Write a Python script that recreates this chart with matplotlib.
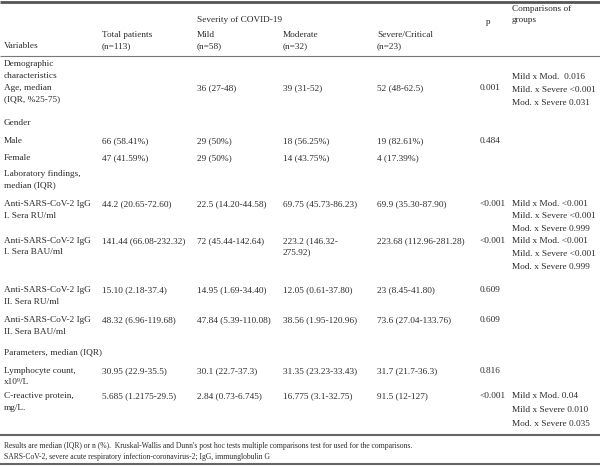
import matplotlib
matplotlib.use("Agg")
import matplotlib.pyplot as plt

plt.rcParams['font.family'] = ['Liberation Serif', 'DejaVu Serif']

# table content
col_headers = ["Total patients\n(n=113)", "Mild\n(n=58)", "Moderate\n(n=32)", "Severe/Critical\n(n=23)"]
section_labels = ["Demographic\ncharacteristics", "Gender", "Laboratory findings,\nmedian (IQR)", "Parameters, median (IQR)"]
var_names = ["Age, median\n(IQR, %25-75)", "Male", "Female",
             "Anti-SARS-CoV-2 IgG\nI. Sera RU/ml", "Anti-SARS-CoV-2 IgG\nI. Sera BAU/ml",
             "Anti-SARS-CoV-2 IgG\nII. Sera RU/ml", "Anti-SARS-CoV-2 IgG\nII. Sera BAU/ml",
             "Lymphocyte count,\nx10⁹/L", "C-reactive protein,\nmg/L."]
total = ["", "66 (58.41%)", "47 (41.59%)", "44.2 (20.65-72.60)", "141.44 (66.08-232.32)",
         "15.10 (2.18-37.4)", "48.32 (6.96-119.68)", "30.95 (22.9-35.5)", "5.685 (1.2175-29.5)"]
mild = ["36 (27-48)", "29 (50%)", "29 (50%)", "22.5 (14.20-44.58)", "72 (45.44-142.64)",
        "14.95 (1.69-34.40)", "47.84 (5.39-110.08)", "30.1 (22.7-37.3)", "2.84 (0.73-6.745)"]
moderate = ["39 (31-52)", "18 (56.25%)", "14 (43.75%)", "69.75 (45.73-86.23)", "223.2 (146.32-\n275.92)",
            "12.05 (0.61-37.80)", "38.56 (1.95-120.96)", "31.35 (23.23-33.43)", "16.775 (3.1-32.75)"]
severe = ["52 (48-62.5)", "19 (82.61%)", "4 (17.39%)", "69.9 (35.30-87.90)", "223.68 (112.96-281.28)",
          "23 (8.45-41.80)", "73.6 (27.04-133.76)", "31.7 (21.7-36.3)", "91.5 (12-127)"]
p_values = ["0.001", "0.484", "", "<0.001", "<0.001", "0.609", "0.609", "0.816", "<0.001"]
comparisons = [["Mild x Mod.  0.016", "Mild. x Severe <0.001", "Mod. x Severe 0.031"], [], [],
               ["Mild x Mod. <0.001", "Mild. x Severe <0.001", "Mod. x Severe 0.999"],
               ["Mild x Mod. <0.001", "Mild. x Severe <0.001", "Mod. x Severe 0.999"],
               [], [], [],
               ["Mild x Mod. 0.04", "Mild x Severe 0.010", "Mod. x Severe 0.035"]]
footnotes = ["Results are median (IQR) or n (%).  Kruskal-Wallis and Dunn's post hoc tests multiple comparisons test for used for the comparisons.",
             "SARS-CoV-2, severe acute respiratory infection-coronavirus-2; IgG, immunglobulin G"]

# layout (pixels from top)
section_y = [64, 123, 174, 352]
row_y = [88, 141, 158, 204, 241, 290, 320, 371, 396]
comp_y = [77, 0, 0, 204, 241, 0, 0, 0, 396]
comp_step = [13, 0, 0, 12.5, 13, 0, 0, 0, 14]
col_x = [102, 197, 283, 377]
lh = 11.5

txt_color = '#2b2b2b'
fs = 6.7

fig = plt.figure(figsize=(6, 4.67), dpi=100)
ax = fig.add_axes([0, 0, 1, 1])
ax.set_xlim(0, 600)
ax.set_ylim(467, 0)
ax.axis('off')


def put(x, y, s, step=lh, size=fs):
    for i, line in enumerate(s.split('\n')):
        ax.text(x, y + i * step, line, fontsize=size, color=txt_color, va='center', ha='left')


# header
put(4, 46, "Variables")
for x, h in zip(col_x, col_headers):
    put(x, 35, h)
put(197, 20, "Severity of COVID-19")
put(486, 22, "p")
put(512, 9, "Comparisons of\ngroups")

for y, s in zip(section_y, section_labels):
    put(4, y, s)

for i in range(len(var_names)):
    y = row_y[i]
    put(4, y, var_names[i])
    for x, col in zip(col_x, [total, mild, moderate, severe]):
        put(x, y, col[i])
    put(480, y, p_values[i])
    if comparisons[i]:
        put(512, comp_y[i], "\n".join(comparisons[i]), step=comp_step[i])

for i, s in enumerate(footnotes):
    put(4, 446 + i * 11, s, size=5.5)

ax.hlines(1.5, 0, 600, color='#555555', lw=2)
ax.hlines(56, 0, 600, color='#777777', lw=0.8)
ax.hlines(435, 0, 600, color='#666666', lw=1.5)
ax.hlines(464, 0, 600, color='#666666', lw=1.5)

fig.savefig('out.png', dpi=100)
